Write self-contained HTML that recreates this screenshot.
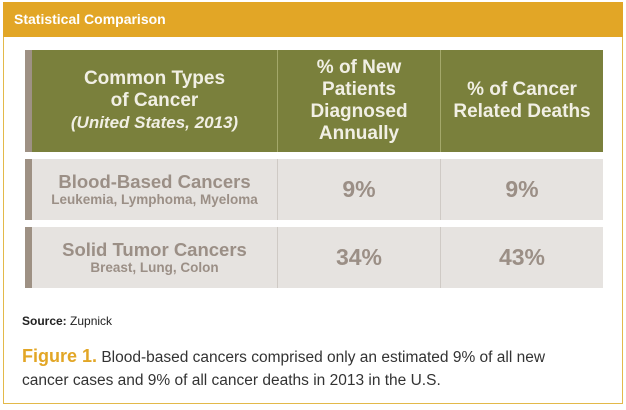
<!DOCTYPE html>
<html><head><meta charset="utf-8"><style>
body{margin:0;width:626px;height:410px;background:#fff;position:relative;overflow:hidden;font-family:"Liberation Sans",Arial,sans-serif}
div{position:absolute;box-sizing:border-box}
.c{display:flex;flex-direction:column;align-items:center;justify-content:center;text-align:center}
.h{color:#f1efe4;font-weight:bold;font-size:19px;line-height:22px}
.v{color:#9b8f86;font-weight:bold;font-size:23px}
.t{color:#9b8f86;font-weight:bold;font-size:18.5px;line-height:20px}
.s{color:#9b8f86;font-weight:bold;font-size:13.5px;line-height:16px}
</style></head><body>
<div style="left:3px;top:2px;width:620px;height:402px;border:1px solid #e3b94a"></div>
<div style="left:3px;top:2px;width:620px;height:35px;background:#e2a626;color:#fff;font-weight:bold;font-size:14px;line-height:35px;padding-left:11px">Statistical Comparison</div>
<div style="left:25px;top:50px;width:578px;height:240px">
 <div style="left:0;top:0;width:578px;height:102px;background:#7a803c;border-left:7px solid #9e9184"></div>
 <div class="c h" style="left:7px;top:0;width:245px;height:102px">Common Types<br>of Cancer<br><i style="font-size:17px">(United States, 2013)</i></div>
 <div class="c h" style="left:252px;top:0;width:163px;height:102px;border-left:1px solid #a4a86a">% of New<br>Patients<br>Diagnosed<br>Annually</div>
 <div class="c h" style="left:415px;top:0;width:163px;height:102px;border-left:1px solid #a4a86a">% of Cancer<br>Related Deaths</div>

 <div style="left:0;top:109px;width:578px;height:61px;background:#e6e3e0;border-left:7px solid #9e9184"></div>
 <div class="c" style="left:7px;top:109px;width:245px;height:61px"><span class="t">Blood-Based Cancers</span><span class="s">Leukemia, Lymphoma, Myeloma</span></div>
 <div class="c v" style="left:252px;top:109px;width:163px;height:61px;border-left:1px solid #cfcac5">9%</div>
 <div class="c v" style="left:415px;top:109px;width:163px;height:61px;border-left:1px solid #cfcac5">9%</div>

 <div style="left:0;top:177px;width:578px;height:61px;background:#e6e3e0;border-left:7px solid #9e9184"></div>
 <div class="c" style="left:7px;top:177px;width:245px;height:61px"><span class="t">Solid Tumor Cancers</span><span class="s">Breast, Lung, Colon</span></div>
 <div class="c v" style="left:252px;top:177px;width:163px;height:61px;border-left:1px solid #cfcac5">34%</div>
 <div class="c v" style="left:415px;top:177px;width:163px;height:61px;border-left:1px solid #cfcac5">43%</div>
</div>
<div style="left:22px;top:314px;font-size:12px;color:#222"><b>Source:</b> Zupnick</div>
<div style="left:22px;top:345px;width:552px;font-size:15.5px;line-height:23px;color:#333"><b style="color:#e2a626;font-size:18px">Figure 1.</b> Blood-based cancers comprised only an estimated 9% of all new cancer cases and 9% of all cancer deaths in 2013 in the U.S.</div>
</body></html>
